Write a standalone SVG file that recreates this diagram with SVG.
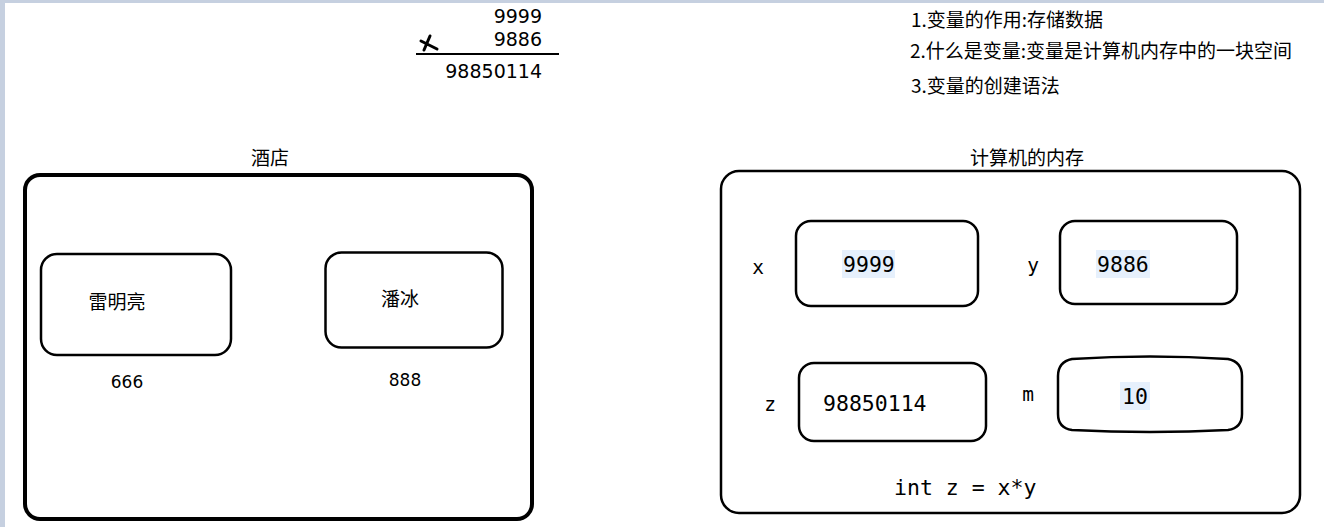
<svg xmlns="http://www.w3.org/2000/svg" width="1324" height="527" viewBox="0 0 1324 527">
<style>
.box{fill:#fff;stroke:#000;stroke-width:2.5}
.big{fill:#fff;stroke:#000;stroke-width:4}
.cjk{font-family:"Noto Sans CJK SC","Noto Sans",sans-serif;font-size:19px;fill:#000}
.num{font-family:"DejaVu Sans",sans-serif;font-size:17px;fill:#000}
.top{font-family:"DejaVu Sans",sans-serif;font-size:19px;fill:#000}
.mono{font-family:"DejaVu Sans Mono",monospace;font-size:21.5px;fill:#000}
.lbl{font-family:"DejaVu Sans Mono",monospace;font-size:19.5px;fill:#000}
.hl{fill:#e6f0fc}
</style>
<rect x="0" y="0" width="1324" height="527" fill="#fff"/>
<rect x="0" y="0" width="1324" height="3" fill="#c6d0e0"/>
<rect x="0" y="0" width="5" height="527" fill="#c6d0e0"/>

<g id="multiplication">
<text class="top" x="542" y="23" text-anchor="end">9999</text>
<text class="top" x="542" y="46" text-anchor="end">9886</text>
<path d="M421 41 L437 49 M430 36 L424 50" stroke="#000" stroke-width="3" fill="none" stroke-linecap="round"/>
<line x1="416" y1="54" x2="559" y2="54" stroke="#000" stroke-width="2.2"/>
<text class="top" x="542" y="78" text-anchor="end">98850114</text>
</g>

<g id="notes">
<text class="cjk" x="911" y="27">1.变量的作用:存储数据</text>
<text class="cjk" x="910" y="58">2.什么是变量:变量是计算机内存中的一块空间</text>
<text class="cjk" x="911" y="93">3.变量的创建语法</text>
</g>

<g id="hotel">
<text class="cjk" x="270" y="165" text-anchor="middle">酒店</text>
<rect class="big" x="25" y="175" width="507" height="344" rx="15"/>
</g>
<g id="room-lei">
<rect class="box" x="41" y="254" width="190" height="101" rx="16"/>
<text class="cjk" x="117" y="309" text-anchor="middle">雷明亮</text>
<text class="num" x="127" y="388" text-anchor="middle">666</text>
</g>
<g id="room-pan">
<rect class="box" x="325.5" y="252.5" width="177" height="95" rx="16"/>
<text class="cjk" x="400" y="306" text-anchor="middle">潘冰</text>
<text class="num" x="405" y="386" text-anchor="middle">888</text>
</g>

<g id="memory">
<text class="cjk" x="1027" y="165" text-anchor="middle">计算机的内存</text>
<rect class="box" x="721" y="171" width="579" height="342" rx="18"/>
<text class="mono" x="894" y="495">int z = x*y</text>
</g>
<g id="var-x">
<text class="lbl" x="758" y="274" text-anchor="middle">x</text>
<rect class="box" x="796" y="221" width="182" height="85" rx="15"/>
<rect class="hl" x="842" y="250" width="53" height="28"/>
<text class="mono" x="843" y="272">9999</text>
</g>
<g id="var-y">
<text class="lbl" x="1033" y="272" text-anchor="middle">y</text>
<rect class="box" x="1060" y="221" width="177" height="83" rx="15"/>
<rect class="hl" x="1096" y="250" width="54" height="28"/>
<text class="mono" x="1097" y="272">9886</text>
</g>
<g id="var-z">
<text class="lbl" x="770" y="411" text-anchor="middle">z</text>
<rect class="box" x="799" y="363" width="187" height="78" rx="15"/>
<text class="mono" x="823" y="411">98850114</text>
</g>
<g id="var-m">
<text class="lbl" x="1028" y="401" text-anchor="middle">m</text>
<path class="box" d="M1072 359 Q1150 354 1228 359 Q1242 362 1242 376 L1242 414 Q1242 428 1228 430 Q1150 434 1072 430 Q1058 428 1058 414 L1058 376 Q1058 362 1072 359 Z"/>
<rect class="hl" x="1120" y="382" width="30" height="28"/>
<text class="mono" x="1122" y="404">10</text>
</g>
</svg>
